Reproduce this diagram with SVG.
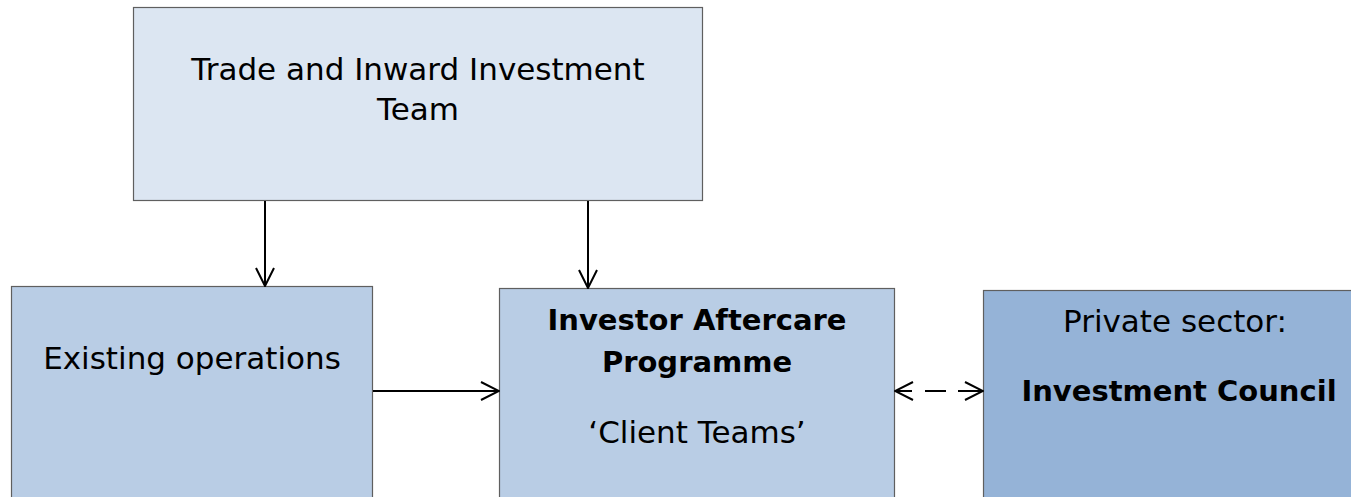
<svg xmlns="http://www.w3.org/2000/svg" width="1351" height="497" viewBox="0 0 1351 497">
  <style>
    .box { stroke: #5f5f5f; stroke-width: 1.2; }
    .lt { fill: #dce6f2; }
    .md { fill: #b9cde5; }
    .dk { fill: #95b3d7; }
    text { font-family: "DejaVu Sans", Verdana, sans-serif; font-size: 31px; fill: #000; text-anchor: middle; }
    .b { font-weight: bold; font-size: 29px; }
    .conn { stroke: #000; stroke-width: 2; fill: none; }
    .dash { stroke-dasharray: 17 13 21 12 25; }
  </style>
  <defs>
    <marker id="head" viewBox="0 0 20 20" refX="19" refY="10" markerWidth="20" markerHeight="20" markerUnits="userSpaceOnUse" orient="auto-start-reverse">
      <path d="M1,1 L19,10 L1,19" fill="none" stroke="#000" stroke-width="2"/>
    </marker>
  </defs>

  <g id="trade-team">
    <rect class="box lt" x="133.5" y="7.5" width="569" height="193"/>
    <text x="418" y="80">Trade and Inward Investment</text>
    <text x="418" y="120">Team</text>
  </g>

  <g id="existing-operations">
    <rect class="box md" x="11.5" y="286.5" width="361" height="230"/>
    <text x="192" y="369">Existing operations</text>
  </g>

  <g id="aftercare-programme">
    <rect class="box md" x="499.5" y="288.5" width="395" height="230"/>
    <text class="b" x="697" y="330">Investor Aftercare</text>
    <text class="b" x="697" y="372">Programme</text>
    <text x="697" y="443">‘Client Teams’</text>
  </g>

  <g id="investment-council">
    <rect class="box dk" x="983.5" y="290.5" width="392" height="230"/>
    <text x="1175" y="332">Private sector:</text>
    <text class="b" x="1179" y="401">Investment Council</text>
  </g>

  <g id="connectors">
    <line class="conn" x1="265" y1="201" x2="265" y2="286" marker-end="url(#head)"/>
    <line class="conn" x1="588" y1="201" x2="588" y2="288" marker-end="url(#head)"/>
    <line class="conn" x1="373" y1="391" x2="499" y2="391" marker-end="url(#head)"/>
    <line class="conn dash" x1="895" y1="391" x2="983" y2="391" marker-start="url(#head)" marker-end="url(#head)"/>
  </g>
</svg>
